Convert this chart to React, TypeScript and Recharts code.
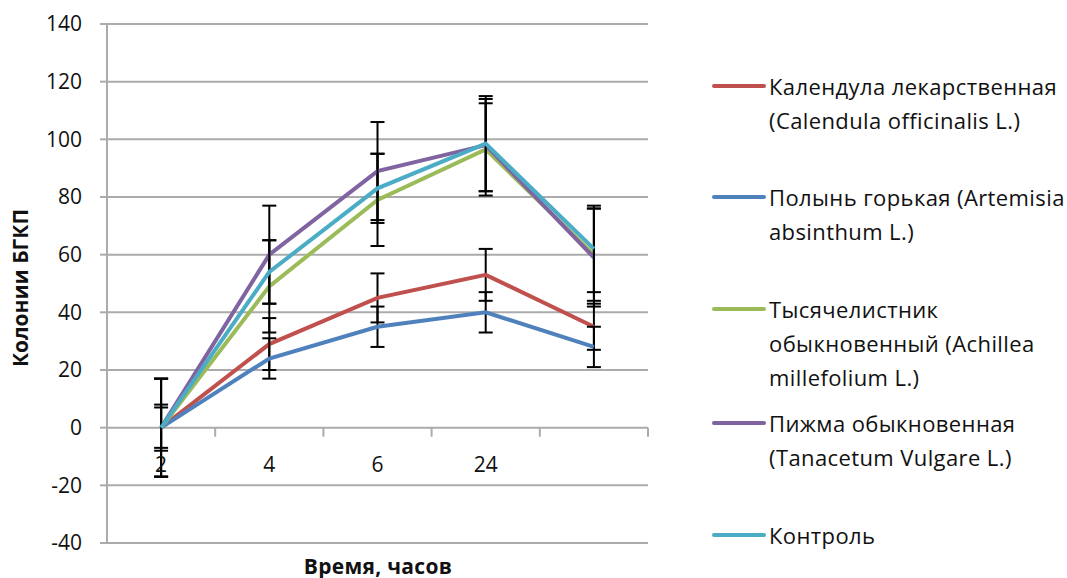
import React from 'react';
import { LineChart, Line, XAxis, YAxis, CartesianGrid, ErrorBar } from 'recharts';

// time points (the last category has no label in the source)
const categories = ['2', '4', '6', '24', ''];

const calendula = [0, 29, 45, 53, 35];
const calendulaErr = [8, 9, 8.5, 9, 8];
const artemisia = [0, 24, 35, 40, 28];
const artemisiaErr = [7, 7, 7, 7, 7];
const achillea = [0, 49, 79, 96.5, 60];
const achilleaErr = [17, 16, 16, 16, 16];
const tanacetum = [0, 60, 89, 98, 59];
const tanacetumErr = [17, 17, 17, 16, 17];
const control = [0, 54, 83, 98.5, 62];
const controlErr = [17, 11, 12, 16.5, 15];

const yTicks = [-40, -20, 0, 20, 40, 60, 80, 100, 120, 140];

const series = [
  { key: 'calendula', values: calendula, err: calendulaErr, color: '#C0504D', lines: ['Календула лекарственная', '(Calendula officinalis L.)'] },
  { key: 'artemisia', values: artemisia, err: artemisiaErr, color: '#4F81BD', lines: ['Полынь горькая (Artemisia', 'absinthum L.)'] },
  { key: 'achillea', values: achillea, err: achilleaErr, color: '#9BBB59', lines: ['Тысячелистник', 'обыкновенный (Achillea', 'millefolium L.)'] },
  { key: 'tanacetum', values: tanacetum, err: tanacetumErr, color: '#8064A2', lines: ['Пижма обыкновенная', '(Tanacetum Vulgare L.)'] },
  { key: 'control', values: control, err: controlErr, color: '#4BACC6', lines: ['Контроль'] },
];

const data = categories.map((name, i) => {
  const row: Record<string, string | number> = { name };
  series.forEach((s) => {
    row[s.key] = s.values[i];
    row[s.key + 'Err'] = s.err[i];
  });
  return row;
});

const FONT = '"Open Sans", sans-serif';
const TEXT = '#111';
const GRID = '#ABABAB';

const PLOT_LEFT = 107;
const PLOT_RIGHT = 648;
const PLOT_TOP = 24;
const PLOT_BOTTOM = 543;
const Y_MIN = -40;
const Y_MAX = 140;
const ZERO_Y = PLOT_TOP + ((PLOT_BOTTOM - PLOT_TOP) * Y_MAX) / (Y_MAX - Y_MIN);
const BAND = (PLOT_RIGHT - PLOT_LEFT) / categories.length;

const legendTop = [86, 197, 309, 423, 535];

const XTick = (props: any) => {
  const { x, payload } = props;
  const bx = x + BAND / 2;
  return (
    <g>
      <line x1={bx} y1={ZERO_Y} x2={bx} y2={ZERO_Y + 9} stroke={GRID} strokeWidth={2} />
      <text x={x} y={ZERO_Y + 44} textAnchor="middle" fontSize={21} fontFamily={FONT} fill={TEXT}>
        {payload.value}
      </text>
    </g>
  );
};

export default function App() {
  return (
    <div style={{ position: 'absolute', left: 0, top: 0, width: 1067, height: 578, background: '#fff', fontFamily: FONT }}>
      <LineChart
        width={1067}
        height={578}
        data={data}
        margin={{ top: PLOT_TOP, right: 1067 - PLOT_RIGHT, bottom: 578 - PLOT_BOTTOM - 1, left: 30 }}
      >
        <CartesianGrid vertical={false} stroke={GRID} strokeWidth={2} />
        <XAxis
          dataKey="name"
          height={1}
          axisLine={false}
          tickLine={false}
          tick={<XTick />}
          interval={0}
          padding={{ left: BAND / 2, right: BAND / 2 }}
        />
        <YAxis
          width={PLOT_LEFT - 30}
          domain={[Y_MIN, Y_MAX]}
          ticks={yTicks}
          interval={0}
          axisLine={{ stroke: GRID, strokeWidth: 2 }}
          tickLine={{ stroke: GRID, strokeWidth: 2 }}
          tickSize={7}
          tickMargin={18}
          tick={{ fontSize: 21, fontFamily: FONT, fill: TEXT }}
        />
        {series.map((s) => (
          <Line
            key={s.key}
            type="linear"
            dataKey={s.key}
            stroke={s.color}
            strokeWidth={4}
            dot={false}
            isAnimationActive={false}
          >
            <ErrorBar dataKey={s.key + 'Err'} width={7} stroke="#000" strokeWidth={2} direction="y" />
          </Line>
        ))}
      </LineChart>

      <div
        style={{
          position: 'absolute',
          left: 20,
          top: 288,
          transform: 'translate(-50%, -50%) rotate(-90deg)',
          fontWeight: 700,
          fontSize: 21,
          color: TEXT,
          whiteSpace: 'nowrap',
        }}
      >
        Колонии БГКП
      </div>
      <div
        style={{
          position: 'absolute',
          left: 378,
          top: 566,
          transform: 'translate(-50%, -50%)',
          fontWeight: 700,
          fontSize: 21,
          letterSpacing: 0.3,
          color: TEXT,
          whiteSpace: 'nowrap',
        }}
      >
        Время, часов
      </div>

      {series.map((s, i) => (
        <div key={s.key} style={{ position: 'absolute', left: 712, top: legendTop[i] - 17 }}>
          <div style={{ position: 'absolute', left: 0, top: 15, width: 54, height: 4, background: s.color, borderRadius: 2 }} />
          <div
            style={{
              position: 'absolute',
              left: 57,
              top: 0,
              fontSize: 22,
              letterSpacing: 0.4,
              lineHeight: '34px',
              color: TEXT,
              whiteSpace: 'nowrap',
            }}
          >
            {s.lines.map((l) => (
              <div key={l}>{l}</div>
            ))}
          </div>
        </div>
      ))}
    </div>
  );
}
